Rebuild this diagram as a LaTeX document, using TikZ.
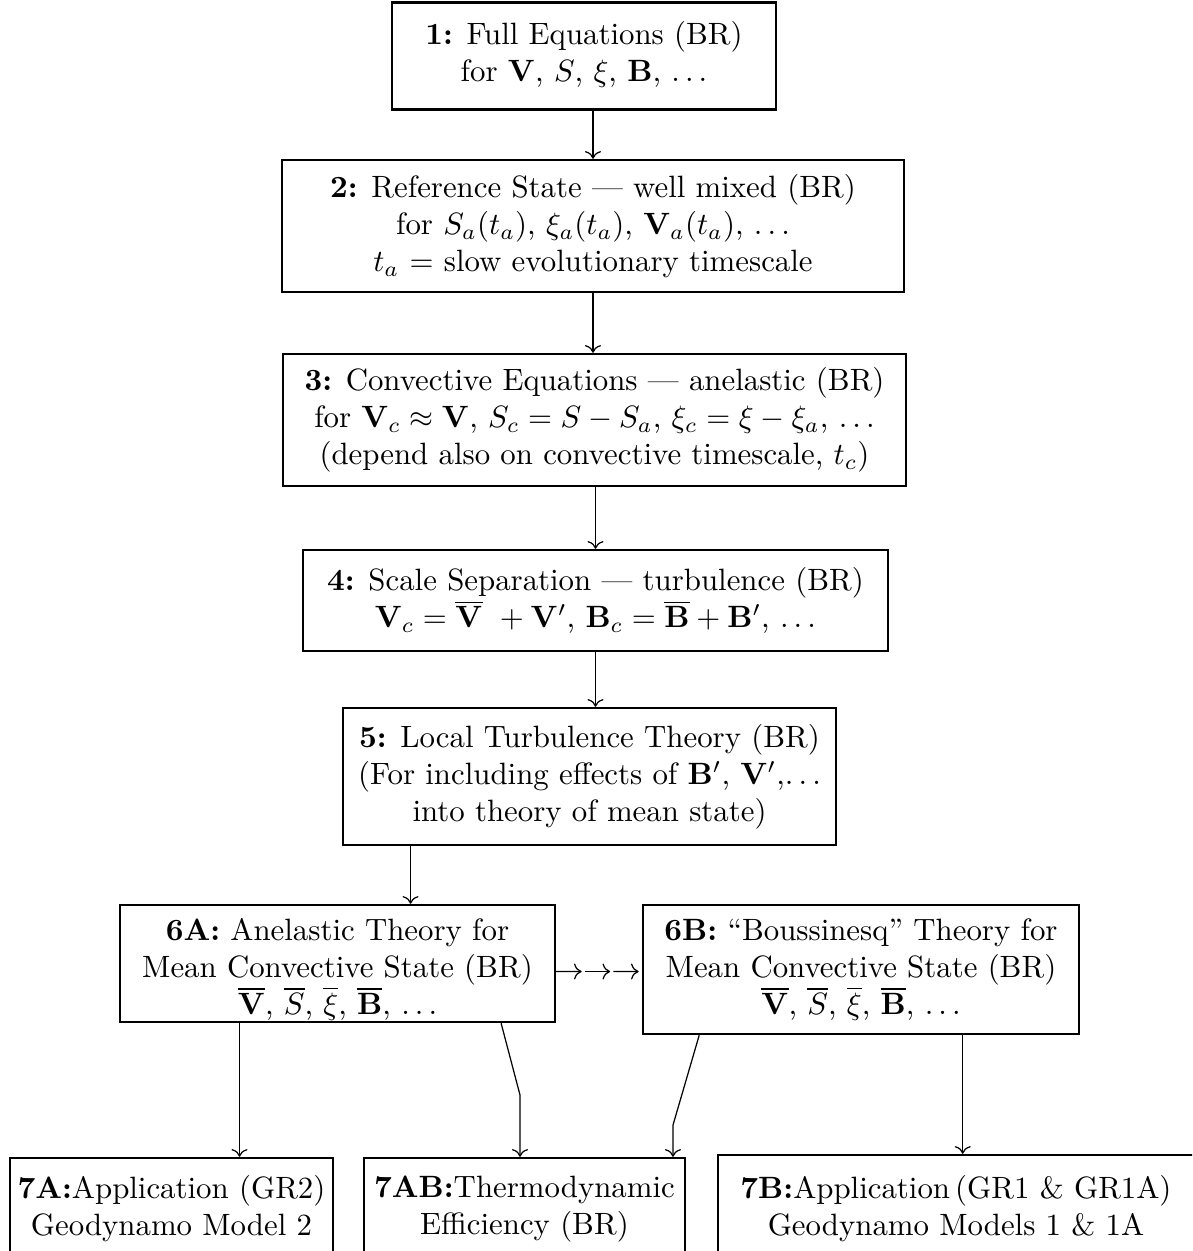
\documentclass[tikz,border=0pt]{standalone}
\usepackage{amsmath}
\usepackage{amssymb}
\usepackage{tikz}
\usetikzlibrary{arrows.meta,calc}
\newcommand{\pxu}{0.3243pt}
\tikzset{
  stagebox/.style={draw, thick, align=center, inner sep=0pt},
}

\begin{document}
\begin{tikzpicture}[x=0.3243pt, y=-0.3243pt, >=To]
\useasboundingbox (0,0) rectangle (1192,1251);
\clip (0,0) rectangle (1192,1251);
% main chain
\node[stagebox, minimum width=384*\pxu, minimum height=107*\pxu] (b1) at (584,56)
  {\textbf{1:} Full Equations (BR)\\ for $\mathbf{V}$, $S$, $\xi$, $\mathbf{B}$, $\ldots$\rule[-3pt]{0pt}{0pt}};
\node[stagebox, minimum width=622*\pxu, minimum height=132*\pxu] (b2) at (593,226)
  {\textbf{2:} Reference State --- well mixed (BR)\\
   for $S_a(t_a)$, $\xi_a(t_a)$, $\mathbf{V}_a(t_a)$, $\ldots$\\
   $t_a$ = slow evolutionary timescale};
\node[stagebox, minimum width=623*\pxu, minimum height=132*\pxu] (b3) at (594.5,420)
  {\textbf{3:} Convective Equations --- anelastic (BR)\\
   for $\mathbf{V}_c\approx\mathbf{V}$, $S_c=S-S_a$, $\xi_c=\xi-\xi_a$, $\ldots$\\
   (depend also on convective timescale, $t_c$)};
\node[stagebox, minimum width=585*\pxu, minimum height=101*\pxu] (b4) at (595.5,600.5)
  {\textbf{4:} Scale Separation --- turbulence (BR)\\
   $\mathbf{V}_c=\overline{\mathbf{V}}\ +\mathbf{V}'$, $\mathbf{B}_c=\overline{\mathbf{B}}+\mathbf{B}'$, $\ldots$};
\node[stagebox, minimum width=493*\pxu, minimum height=137*\pxu] (b5) at (589.5,776.5)
  {\textbf{5:} Local Turbulence Theory (BR)\\
   (For including effects of $\mathbf{B}'$, $\mathbf{V}'$,$\ldots$\\
   into theory of mean state)};
% mean state
\node[stagebox, minimum width=435*\pxu, minimum height=117*\pxu] (b6a) at (337.5,963.5)
  {\rule{0pt}{11pt}\textbf{6A:} Anelastic Theory for\\ Mean Convective State (BR)\\
   $\overline{\mathbf{V}}$, $\overline{S}$, $\overline{\xi}$, $\overline{\mathbf{B}}$, $\ldots$};
\node[stagebox, minimum width=436*\pxu, minimum height=129*\pxu] (b6b) at (861,969.5)
  {\textbf{6B:} ``Boussinesq'' Theory for\\ Mean Convective State (BR)\\
   $\overline{\mathbf{V}}$, $\overline{S}$, $\overline{\xi}$, $\overline{\mathbf{B}}$, $\ldots$};
% applications
\node[stagebox, minimum width=323*\pxu, minimum height=102*\pxu] (b7a) at (171.5,1209)
  {\textbf{7A:}Application (GR2)\\ Geodynamo Model 2};
\node[stagebox, minimum width=321*\pxu, minimum height=102*\pxu] (b7ab) at (524.5,1209)
  {\textbf{7AB:}Thermodynamic\\ Efficiency (BR)};
\node[stagebox, minimum width=476*\pxu, minimum height=108*\pxu] (b7b) at (956,1209)
  {\textbf{7B:}Application\,(GR1 \& GR1A)\\ Geodynamo Models 1 \& 1A};

% connectors
\draw[->] (b2.north |- b1.south) -- (b2.north);
\draw[->] (b2.south) -- (b2.south |- b3.north);
\draw[->] (b4.north |- b3.south) -- (b4.north);
\draw[->] (b4.south) -- (b4.south |- b5.north);
\coordinate (t6a) at ($(b6a.north west)!0.667!(b6a.north east)$);
\draw[->] (t6a |- b5.south) -- (t6a);
% 6A to 6B
\coordinate (r6a) at ([yshift=-8*\pxu]b6a.east);
\coordinate (l6b) at (r6a -| b6b.west);
\foreach \i in {0,1,2}
  \draw[->, shorten >=1pt] ($(r6a)!{\i/3}!(l6b)$) -- ($(r6a)!{(\i+1)/3}!(l6b)$);
% down to the applications
\coordinate (s6a) at ($(b6a.south west)!0.276!(b6a.south east)$);
\draw[->] (s6a) -- (s6a |- b7a.north);
\coordinate (k1) at (520,1095);
\draw[->] ($(b6a.south west)!0.874!(b6a.south east)$) -- (k1) -- (k1 |- b7ab.north);
\coordinate (k2) at (673,1125);
\draw[->] ($(b6b.south west)!0.131!(b6b.south east)$) -- (k2) -- (k2 |- b7ab.north);
\coordinate (s6b) at ($(b6b.south west)!0.732!(b6b.south east)$);
\draw[->] (s6b) -- (s6b |- b7b.north);
\end{tikzpicture}
\end{document}
